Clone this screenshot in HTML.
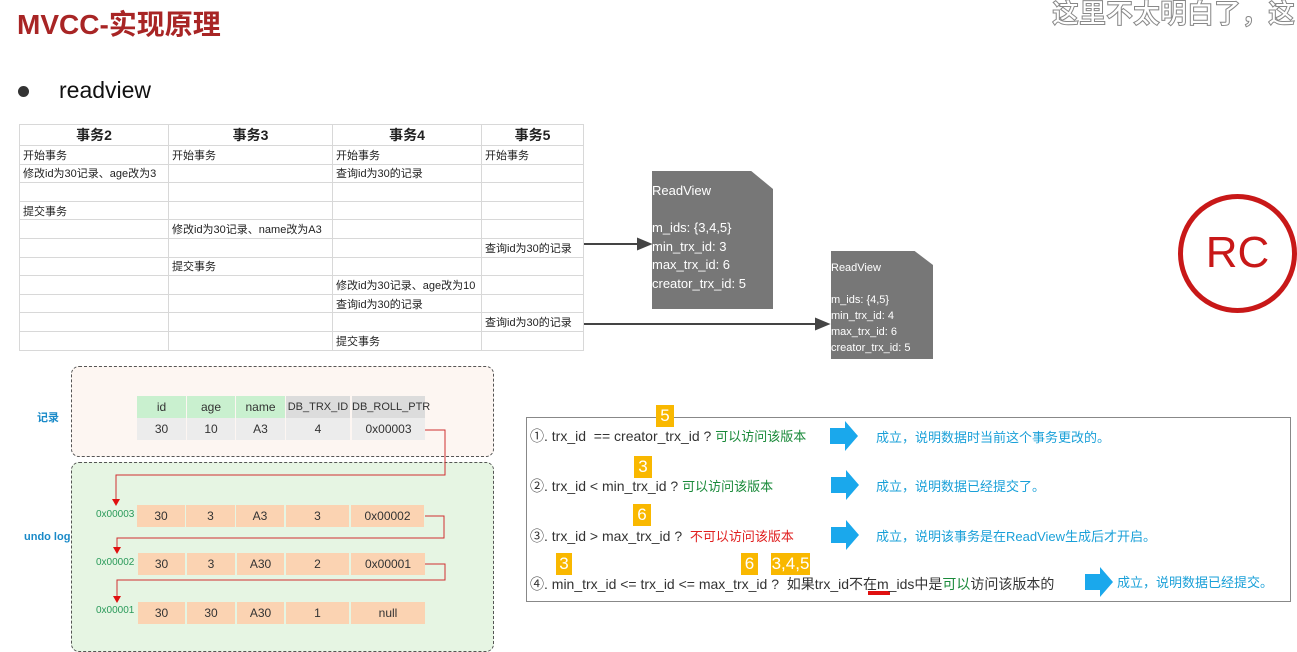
<!DOCTYPE html>
<html><head><meta charset="utf-8"><style>
*{margin:0;padding:0;box-sizing:border-box}
body{width:1297px;height:646px;position:relative;background:#fff;overflow:hidden;font-family:"Liberation Sans","Noto Sans CJK SC",sans-serif}
.a{position:absolute;white-space:nowrap}
table.t{position:absolute;left:19px;top:124px;border-collapse:collapse;font-size:11px;color:#222}
table.t td{border:1px solid #d8d8d8;height:18.6px;padding:0 3px;vertical-align:middle}
table.t th{border:1px solid #d8d8d8;height:20px;font-size:14px;font-weight:bold}
.c{position:absolute;text-align:center;font-size:12px;color:#333;line-height:22px;height:22px}
.g{background:#c9f0cf}.gr{background:#dcdcdc}.lg{background:#ececec}.o{background:#fbd3b2}
.rv{position:absolute;background:#777;color:#fff;clip-path:polygon(0 0,82% 0,100% 13%,100% 100%,0 100%)}
.num{position:absolute;background:#f9b800;color:#fff;font-size:17px;text-align:center;line-height:22px;height:22px}
.cond{position:absolute;font-size:14px;color:#333}
.grn{color:#1a8a3a}.red{color:#e02020}.blu{color:#1aa0d8}
</style></head><body>
<div class="a" style="left:17px;top:3px;font-size:28px;font-weight:bold;color:#a82525">MVCC-实现原理</div>
<div class="a" style="left:1052px;top:-8px;font-size:27px;color:#fff;-webkit-text-stroke:1px #888;font-weight:bold">这里不太明白了，这</div>
<div class="a" style="left:18px;top:86px;width:11px;height:11px;border-radius:50%;background:#333"></div>
<div class="a" style="left:59px;top:77px;font-size:23px;color:#111">readview</div>

<table class="t">
<colgroup><col style="width:149px"><col style="width:164px"><col style="width:149px"><col style="width:102px"></colgroup>
<tr><th>事务2</th><th>事务3</th><th>事务4</th><th>事务5</th></tr>
<tr><td>开始事务</td><td>开始事务</td><td>开始事务</td><td>开始事务</td></tr>
<tr><td>修改id为30记录、age改为3</td><td></td><td>查询id为30的记录</td><td></td></tr>
<tr><td></td><td></td><td></td><td></td></tr>
<tr><td>提交事务</td><td></td><td></td><td></td></tr>
<tr><td></td><td>修改id为30记录、name改为A3</td><td></td><td></td></tr>
<tr><td></td><td></td><td></td><td>查询id为30的记录</td></tr>
<tr><td></td><td>提交事务</td><td></td><td></td></tr>
<tr><td></td><td></td><td>修改id为30记录、age改为10</td><td></td></tr>
<tr><td></td><td></td><td>查询id为30的记录</td><td></td></tr>
<tr><td></td><td></td><td></td><td>查询id为30的记录</td></tr>
<tr><td></td><td></td><td>提交事务</td><td></td></tr>
</table>

<div class="rv" style="left:652px;top:171px;width:121px;height:138px;font-size:13px;line-height:18.5px;padding-top:11px">ReadView<br><br>m_ids: {3,4,5}<br>min_trx_id: 3<br>max_trx_id: 6<br>creator_trx_id: 5</div>
<div class="rv" style="left:831px;top:251px;width:102px;height:108px;font-size:11px;line-height:16px;padding-top:9px">ReadView<br><br>m_ids: {4,5}<br>min_trx_id: 4<br>max_trx_id: 6<br>creator_trx_id: 5</div>

<div class="a" style="left:1178px;top:194px;width:119px;height:119px;border:5px solid #c81818;border-radius:50%;color:#c81818;font-size:44px;text-align:center;line-height:108px">RC</div>

<div class="a" style="left:71px;top:366px;width:423px;height:91px;border:1.5px dashed #555;border-radius:8px;background:#fdf6f2"></div>
<div class="a" style="left:71px;top:462px;width:423px;height:190px;border:1.5px dashed #555;border-radius:8px;background:#e6f5e3"></div>
<div class="a" style="left:37px;top:409px;font-size:11px;font-weight:bold;color:#1a8ac8">记录</div>
<div class="a" style="left:24px;top:531px;font-size:11px;font-weight:bold;color:#1a8ac8">undo log</div>

<div class="c g" style="left:137px;top:396px;width:49px">id</div>
<div class="c g" style="left:187px;top:396px;width:48px">age</div>
<div class="c g" style="left:236px;top:396px;width:49px">name</div>
<div class="c gr" style="left:286px;top:396px;width:64px;font-size:11px">DB_TRX_ID</div>
<div class="c gr" style="left:352px;top:396px;width:73px;font-size:11px">DB_ROLL_PTR</div>
<div class="c lg" style="left:137px;top:418px;width:49px">30</div>
<div class="c lg" style="left:187px;top:418px;width:48px">10</div>
<div class="c lg" style="left:236px;top:418px;width:49px">A3</div>
<div class="c lg" style="left:286px;top:418px;width:64px">4</div>
<div class="c lg" style="left:352px;top:418px;width:73px">0x00003</div>

<div class="a" style="left:96px;top:509px;font-size:10px;color:#2a9a5a">0x00003</div>
<div class="c o" style="left:137px;top:505px;width:48px">30</div>
<div class="c o" style="left:186px;top:505px;width:49px">3</div>
<div class="c o" style="left:236px;top:505px;width:48px">A3</div>
<div class="c o" style="left:286px;top:505px;width:63px">3</div>
<div class="c o" style="left:351px;top:505px;width:73px">0x00002</div>

<div class="a" style="left:96px;top:557px;font-size:10px;color:#2a9a5a">0x00002</div>
<div class="c o" style="left:138px;top:553px;width:47px">30</div>
<div class="c o" style="left:187px;top:553px;width:48px">3</div>
<div class="c o" style="left:237px;top:553px;width:47px">A30</div>
<div class="c o" style="left:286px;top:553px;width:63px">2</div>
<div class="c o" style="left:351px;top:553px;width:74px">0x00001</div>

<div class="a" style="left:96px;top:605px;font-size:10px;color:#2a9a5a">0x00001</div>
<div class="c o" style="left:138px;top:602px;width:47px">30</div>
<div class="c o" style="left:187px;top:602px;width:48px">30</div>
<div class="c o" style="left:237px;top:602px;width:47px">A30</div>
<div class="c o" style="left:286px;top:602px;width:63px">1</div>
<div class="c o" style="left:351px;top:602px;width:74px">null</div>

<svg class="a" style="left:0;top:0" width="1297" height="646">
<g stroke="#444" stroke-width="2" fill="#444">
<line x1="584" y1="244" x2="640" y2="244"/><polygon points="650,244,638,239,638,249"/>
<line x1="584" y1="324" x2="818" y2="324"/><polygon points="828,324,816,319,816,329"/>
</g>
<g stroke="#d03030" stroke-width="1" fill="none">
<polyline points="425,430 445,430 445,475 116,475 116,500"/>
<polyline points="425,516 444,516 444,538 117,538 117,548"/>
<polyline points="425,564 445,564 445,580 117,580 117,597"/>
</g>
<g fill="#e01010">
<polygon points="112,499 120,499 116,506"/>
<polygon points="113,547 121,547 117,554"/>
<polygon points="113,596 121,596 117,603"/>
</g>
<g fill="#1aa8ec">
<polygon points="830,428 845,428 845,421 858,436 845,451 845,444 830,444"/>
<polygon points="831,477 846,477 846,470 859,485 846,500 846,493 831,493"/>
<polygon points="831,527 846,527 846,520 859,535 846,550 846,543 831,543"/>
<polygon points="1085,574 1100,574 1100,567 1113,582 1100,597 1100,590 1085,590"/>
</g>
<rect x="868" y="591" width="22" height="4" fill="#e01010"/>
</svg>

<div class="a" style="left:526px;top:417px;width:765px;height:185px;border:1px solid #888"></div>
<div class="num" style="left:656px;top:405px;width:18px">5</div>
<div class="num" style="left:634px;top:456px;width:18px">3</div>
<div class="num" style="left:633px;top:504px;width:18px">6</div>
<div class="num" style="left:556px;top:553px;width:16px">3</div>
<div class="num" style="left:741px;top:553px;width:17px">6</div>
<div class="num" style="left:771px;top:553px;width:39px">3,4,5</div>

<div class="cond" style="left:530px;top:426px">①. trx_id &nbsp;== creator_trx_id ? <span class="grn" style="font-size:13px">可以访问该版本</span></div>
<div class="cond blu" style="left:876px;top:427px;font-size:13px">成立，说明数据时当前这个事务更改的。</div>
<div class="cond" style="left:530px;top:476px">②. trx_id &lt; min_trx_id ? <span class="grn" style="font-size:13px">可以访问该版本</span></div>
<div class="cond blu" style="left:876px;top:476px;font-size:13px">成立，说明数据已经提交了。</div>
<div class="cond" style="left:530px;top:526px">③. trx_id &gt; max_trx_id ? &nbsp;<span class="red" style="font-size:13px">不可以访问该版本</span></div>
<div class="cond blu" style="left:876px;top:526px;font-size:13px">成立，说明该事务是在ReadView生成后才开启。</div>
<div class="cond" style="left:530px;top:574px">④. min_trx_id &lt;= trx_id &lt;= max_trx_id ? &nbsp;如果trx_id不在m_ids中是<span class="grn">可以</span>访问该版本的</div>
<div class="cond blu" style="left:1117px;top:572px;font-size:13px">成立，说明数据已经提交。</div>
</body></html>
